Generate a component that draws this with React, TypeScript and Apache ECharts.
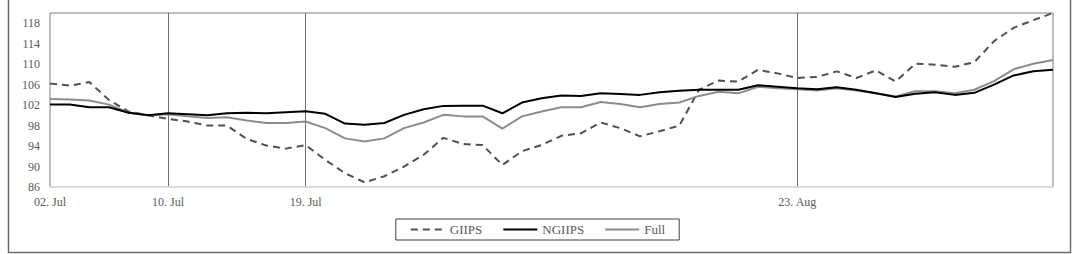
import React, { useEffect, useRef } from "react";
import * as echarts from "echarts";

const dates = [
  "02. Jul", "03. Jul", "04. Jul", "05. Jul", "06. Jul", "09. Jul", "10. Jul", "11. Jul", "12. Jul", "13. Jul",
  "16. Jul", "17. Jul", "18. Jul", "19. Jul", "20. Jul", "23. Jul", "24. Jul", "25. Jul", "26. Jul", "27. Jul",
  "30. Jul", "31. Jul", "01. Aug", "02. Aug", "03. Aug", "06. Aug", "07. Aug", "08. Aug", "09. Aug", "10. Aug",
  "13. Aug", "14. Aug", "15. Aug", "16. Aug", "17. Aug", "20. Aug", "21. Aug", "22. Aug", "23. Aug", "24. Aug",
  "27. Aug", "28. Aug", "29. Aug", "30. Aug", "31. Aug", "03. Sep", "04. Sep", "05. Sep", "06. Sep", "07. Sep",
  "10. Sep", "11. Sep",
];

const labeledDates = ["02. Jul", "10. Jul", "19. Jul", "23. Aug"];

const giips = [
  106.2, 105.8, 106.5, 103.0, 100.75, 100.0, 99.3, 98.8, 98.0, 98.0,
  95.4, 94.1, 93.5, 94.2, 91.3, 88.7, 86.9, 88.1, 90.0, 92.3,
  95.6, 94.4, 94.2, 90.3, 93.0, 94.2, 96.0, 96.5, 98.6, 97.5,
  95.9, 96.9, 98.0, 105.0, 106.8, 106.6, 108.9, 108.2, 107.3, 107.5,
  108.6, 107.3, 108.8, 106.6, 110.1, 109.9, 109.5, 110.4, 114.5, 117.1,
  118.6, 120.0,
];

const ngiips = [
  102.1, 102.1, 101.6, 101.6, 100.5, 100.0, 100.4, 100.2, 100.0, 100.4,
  100.5, 100.4, 100.6, 100.8, 100.3, 98.4, 98.15, 98.5, 100.1, 101.2,
  101.85, 101.9, 101.9, 100.4, 102.5, 103.35, 103.9, 103.8, 104.3, 104.15,
  104.0, 104.5, 104.8, 105.0, 105.0, 105.0, 105.9, 105.6, 105.3, 105.1,
  105.5, 105.0, 104.3, 103.6, 104.2, 104.5, 104.0, 104.4, 106.0, 107.8,
  108.6, 108.9,
];

const full = [
  103.2, 103.1, 102.9, 102.1, 100.55, 100.0, 100.2, 99.8, 99.5, 99.65,
  99.0, 98.5, 98.5, 98.8, 97.5, 95.5, 94.9, 95.5, 97.5, 98.6,
  100.1, 99.8, 99.8, 97.4, 99.8, 100.75, 101.6, 101.6, 102.6, 102.2,
  101.6, 102.2, 102.5, 103.8, 104.6, 104.3, 105.6, 105.3, 105.1, 104.85,
  105.3, 104.85, 104.3, 103.7, 104.7, 104.7, 104.3, 105.0, 106.7, 109.0,
  110.1, 110.8,
];

const yMin = 86;
const yMax = 120;
const yLabelStep = 4;
const yLabelMax = 118;

const FONT = "Liberation Serif";

export default function App() {
  const ref = useRef<HTMLDivElement>(null);

  useEffect(() => {
    if (!ref.current) return;
    const chart = echarts.init(ref.current, null, { renderer: "svg" });
    const isLabeled = (idx: number) => labeledDates.includes(dates[idx]);
    const isSplit = (idx: number) => idx !== 0 && labeledDates.includes(dates[idx]);

    chart.setOption({
      animation: false,
      backgroundColor: "#ffffff",
      graphic: [
        {
          type: "rect",
          shape: { x: 8.5, y: -5, width: 1062, height: 257.5 },
          style: { fill: "none", stroke: "#6a6a6a", lineWidth: 1.5 },
          silent: true,
        },
      ],
      grid: {
        left: 50,
        right: 22,
        top: 13,
        bottom: 67,
        show: true,
        borderColor: "#7f7f7f",
        borderWidth: 1,
      },
      legend: {
        data: ["GIIPS", "NGIIPS", "Full"],
        top: 219,
        left: "center",
        padding: [4, 14, 4, 14],
        itemWidth: 34,
        itemHeight: 14,
        itemGap: 20,
        borderColor: "#404040",
        borderWidth: 1,
        itemStyle: { opacity: 0 },
        textStyle: { fontFamily: FONT, fontSize: 13, color: "#595959" },
      },
      xAxis: {
        type: "category",
        data: dates,
        boundaryGap: false,
        axisLine: { show: true, lineStyle: { color: "#d9d9d9", width: 2 } },
        axisTick: { show: false },
        axisLabel: {
          interval: (idx: number) => isLabeled(idx),
          margin: 9,
          fontFamily: FONT,
          fontSize: 12,
          color: "#595959",
        },
        splitLine: {
          show: true,
          interval: (idx: number) => isSplit(idx),
          lineStyle: { color: "#6e6e6e", width: 1 },
        },
      },
      yAxis: {
        type: "value",
        min: yMin,
        max: yMax,
        interval: 2,
        axisLine: { show: false },
        axisTick: { show: false },
        splitLine: { show: false },
        axisLabel: {
          margin: 10,
          fontFamily: FONT,
          fontSize: 12,
          color: "#595959",
          formatter: (v: number) =>
            (v - yMin) % yLabelStep === 0 && v <= yLabelMax ? String(v) : "",
        },
      },
      series: [
        {
          name: "GIIPS",
          type: "line",
          data: giips,
          symbol: "none",
          color: "#505050",
          lineStyle: { color: "#505050", width: 2, type: [7, 5] },
        },
        {
          name: "NGIIPS",
          type: "line",
          data: ngiips,
          symbol: "none",
          color: "#000000",
          z: 4,
          lineStyle: { color: "#000000", width: 2 },
        },
        {
          name: "Full",
          type: "line",
          data: full,
          symbol: "none",
          color: "#8c8c8c",
          lineStyle: { color: "#8c8c8c", width: 2 },
        },
      ],
    });

    return () => chart.dispose();
  }, []);

  return (
    <div
      ref={ref}
      style={{ position: "fixed", left: 0, top: 0, width: 1075, height: 254 }}
    />
  );
}
